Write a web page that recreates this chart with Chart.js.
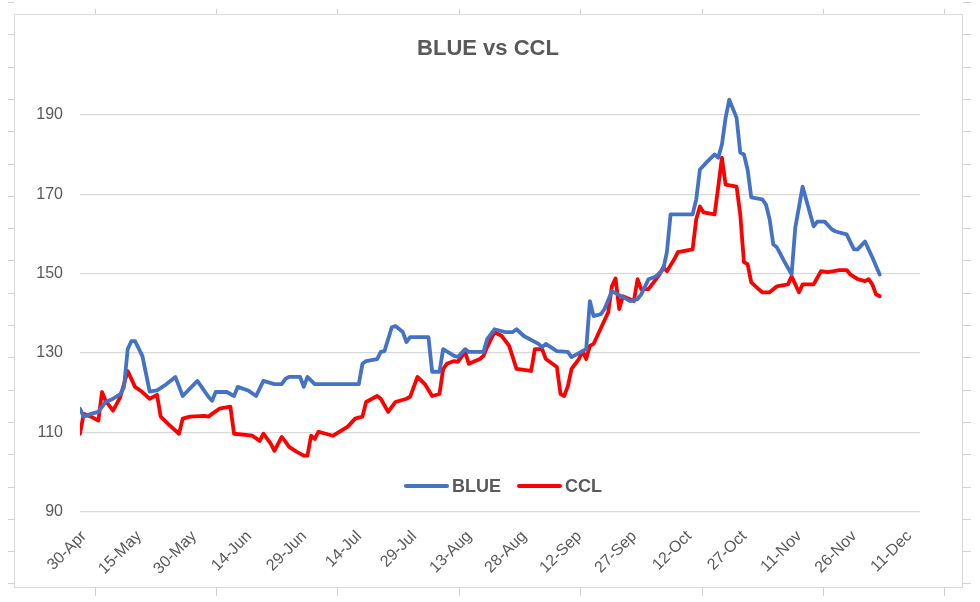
<!DOCTYPE html>
<html>
<head>
<meta charset="utf-8">
<script src="https://cdn.jsdelivr.net/npm/chart.js@4.4.0/dist/chart.umd.min.js"></script>
<style>
html,body{margin:0;padding:0;background:#fff;}
#wrap{width:980px;height:602px;position:relative;}
canvas{display:block;}
</style>
</head>
<body>
<div id="wrap"><canvas id="c" width="980" height="602" style="width:980px;height:602px"></canvas></div>
<script>
// x values = days after 30-Apr-2020
const xTickDays = [0,15,30,45,60,75,90,105,120,135,150,165,180,195,210,225];
const xTickLabels = ['30-Apr','15-May','30-May','14-Jun','29-Jun','14-Jul','29-Jul','13-Aug','28-Aug','12-Sep','27-Sep','12-Oct','27-Oct','11-Nov','26-Nov','11-Dec'];
const yTickValues = [90,110,130,150,170,190];

const blueDays = [
  0,1,3,5,6,7,9,11,12,13,
  14,15,17,18,19,21,23,26,28,32,
  35,36,37,40,42,43,46,48,50,53,
  55,56,57,60,61,62,64,76,77,78,
  81,82,83,85,86,88,89,90,95,96,
  98,99,102,103,105,106,110,111,113,116,
  118,119,121,125,126,127,130,133,134,137,
  138,139,140,142,143,145,148,150,152,153,
  155,157,159,160,161,167,168,169,171,173,
  174,175,176,177,179,180,181,182,183,186,
  187,188,189,190,192,194,195,197,200,201,
  203,205,206,209,211,212,214,216,218
];
const blueValues = [
  116.0,114.0,114.7,115.2,116.5,117.7,118.5,119.7,121.5,131.0,
  133.0,133.0,129.3,124.8,120.3,120.6,121.8,124.0,119.2,123.0,
  119.0,118.0,120.2,120.2,119.2,121.5,120.5,119.2,123.0,122.2,
  122.2,123.5,124.0,124.0,121.5,124.0,122.2,122.2,127.3,128.0,
  128.5,130.3,130.5,136.5,136.8,135.3,132.8,134.0,134.0,125.3,
  125.3,131.0,129.3,129.0,131.0,130.3,130.3,133.5,136.0,135.3,
  135.3,136.0,134.3,132.3,131.5,132.3,130.5,130.3,129.0,130.5,
  131.0,143.1,139.3,139.8,141.1,145.6,144.1,143.1,143.6,144.8,
  148.6,149.3,151.1,155.4,164.9,164.9,168.7,176.2,178.2,180.0,
  179.2,182.5,189.2,193.8,189.2,180.5,180.0,176.2,169.2,168.7,
  167.4,163.7,157.4,156.6,153.1,149.8,161.6,171.9,161.9,163.1,
  163.1,161.1,160.6,159.9,156.1,156.1,158.1,154.1,149.8
];

const cclDays = [
  0,1,3,5,6,7,9,10,11,13,
  14,15,17,19,21,22,24,27,28,30,
  34,35,36,38,41,42,47,49,50,52,
  53,55,56,57,59,61,62,63,64,65,
  69,73,75,77,78,81,82,84,86,89,
  90,92,94,96,98,99,100,102,103,105,
  106,109,110,111,113,115,117,119,123,124,
  126,127,130,131,132,133,134,136,137,138,
  139,140,144,145,146,147,148,151,152,153,
  155,158,159,160,162,163,167,168,169,170,
  173,174,175,176,179,180,181,182,183,185,
  186,188,190,193,194,196,197,200,202,204,
  207,209,210,212,214,215,216,217,218
];
const cclValues = [
  109.7,114.7,114.0,113.0,120.2,118.0,115.5,117.2,119.0,125.5,
  123.5,121.5,120.2,118.5,119.5,114.0,112.2,109.7,113.5,114.0,
  114.2,114.0,114.7,116.0,116.5,109.7,109.2,107.9,109.7,107.2,
  105.4,108.9,107.7,106.4,105.2,104.2,104.2,109.2,108.4,110.2,
  109.2,111.5,113.5,114.0,117.7,119.2,118.5,115.2,117.7,118.5,
  119.0,124.0,122.2,119.2,119.7,126.0,127.3,128.0,127.8,130.3,
  127.3,128.5,129.3,131.5,135.3,134.3,131.8,126.0,125.5,131.0,
  131.0,128.5,126.5,119.7,119.2,121.7,126.0,128.5,130.5,128.5,
  131.8,132.3,140.3,146.8,148.8,141.1,144.3,143.1,148.6,146.1,
  146.1,149.8,151.6,150.6,153.6,155.4,156.1,163.7,166.9,165.4,
  164.9,171.9,179.2,172.4,171.9,164.9,152.9,152.4,147.8,146.1,
  145.3,145.3,146.8,147.3,149.3,145.3,147.3,147.3,150.6,150.4,
  150.9,150.9,149.8,148.6,148.1,148.6,147.3,144.8,144.3
];

const seriesNames = ['BLUE','CCL'];
const seriesColors = ['#4472C4','#FF0000'];
const chartTitle = 'BLUE vs CCL';

const FONT = "'Liberation Sans', Arial, sans-serif";
const TEXT = '#595959';

const toPoints = (days, vals) => days.map((d, i) => ({x: d, y: vals[i]}));

// Chart border, spreadsheet grid ticks and title
const framePlugin = {
  id: 'frame',
  beforeDraw(chart) {
    const c = chart.ctx;
    c.save();
    c.fillStyle = '#ffffff';
    c.fillRect(0, 0, chart.width, chart.height);
    c.strokeStyle = '#d9d9d9';
    c.lineWidth = 1;
    c.strokeRect(14.5, 14.5, 948, 573);
    c.strokeStyle = '#d0d0d0';
    c.beginPath();
    [95,216,337,459,580,702,823,944].forEach(x => {
      c.moveTo(x + 0.5, 9); c.lineTo(x + 0.5, 14);
      c.moveTo(x + 0.5, 588); c.lineTo(x + 0.5, 596);
    });
    for (let y = 2; y < 600; y += 32.3) {
      const yy = Math.round(y) + 0.5;
      c.moveTo(8, yy); c.lineTo(14, yy);
      c.moveTo(963, yy); c.lineTo(971, yy);
    }
    c.stroke();
    c.fillStyle = TEXT;
    c.font = "bold 22px " + FONT;
    c.textAlign = 'center';
    c.textBaseline = 'middle';
    c.fillText(chartTitle, 488, 49);
    c.restore();
  }
};

// Legend drawn overlapping the lower plot area, as in the source
const legendPlugin = {
  id: 'overlayLegend',
  afterDraw(chart) {
    const c = chart.ctx;
    c.save();
    c.font = "bold 18px " + FONT;
    c.textBaseline = 'middle';
    c.textAlign = 'left';
    const y = 486;
    const starts = [406, 519];
    starts.forEach((x, i) => {
      c.strokeStyle = seriesColors[i];
      c.lineWidth = 4;
      c.lineCap = 'round';
      c.beginPath();
      c.moveTo(x, y); c.lineTo(x + 41, y);
      c.stroke();
      c.fillStyle = TEXT;
      c.fillText(seriesNames[i], x + 46, y + 1);
    });
    c.restore();
  }
};

Chart.defaults.font.family = FONT;

new Chart(document.getElementById('c'), {
  type: 'line',
  data: {
    datasets: [
      {label: seriesNames[0], data: toPoints(blueDays, blueValues), borderColor: seriesColors[0], backgroundColor: seriesColors[0],
       borderWidth: 3.8, pointRadius: 0, tension: 0, borderJoinStyle: 'round', borderCapStyle: 'round', fill: false},
      {label: seriesNames[1], data: toPoints(cclDays, cclValues), borderColor: seriesColors[1], backgroundColor: seriesColors[1],
       borderWidth: 3.8, pointRadius: 0, tension: 0, borderJoinStyle: 'round', borderCapStyle: 'round', fill: false}
    ]
  },
  options: {
    responsive: false,
    animation: false,
    layout: {padding: {left: 14, right: 60, top: 75, bottom: 15}},
    plugins: {
      legend: {display: false},
      tooltip: {enabled: false},
      title: {display: false}
    },
    scales: {
      x: {
        type: 'linear', min: 0, max: 229,
        afterBuildTicks: s => { s.ticks = xTickDays.map(v => ({value: v})); },
        afterFit: s => { s.height = 75; },
        ticks: {
          autoSkip: false, maxRotation: 45, minRotation: 45, padding: 15, labelOffset: 4,
          color: TEXT, font: {size: 16, family: FONT},
          callback: v => xTickLabels[xTickDays.indexOf(v)]
        },
        grid: {display: false, drawTicks: false},
        border: {display: false}
      },
      y: {
        min: 90, max: 200,
        afterBuildTicks: s => { s.ticks = yTickValues.map(v => ({value: v})); },
        afterFit: s => { s.width = 66; },
        ticks: {padding: 17, color: TEXT, font: {size: 16, family: FONT}},
        grid: {color: '#D9D9D9', lineWidth: 1.3, drawTicks: false},
        border: {display: false}
      }
    }
  },
  plugins: [framePlugin, legendPlugin]
});
</script>
</body>
</html>
